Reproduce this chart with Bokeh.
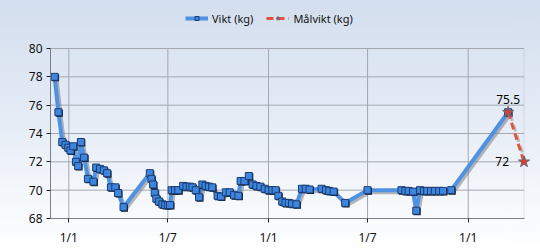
import pandas as pd
from bokeh.plotting import figure
from bokeh.models import (ColumnDataSource, Range1d, FixedTicker, CustomJSTickFormatter,
                          Legend, LegendItem, Dodge, BoxAnnotation)
from bokeh.core.properties import value
from bokeh.embed import file_html
from bokeh.resources import INLINE

# ---- data ----
weight_dates = [
    "2012-12-06", "2012-12-13", "2012-12-20", "2012-12-26", "2012-12-31", "2013-01-04",
    "2013-01-09", "2013-01-14", "2013-01-18", "2013-01-23", "2013-01-29", "2013-02-05",
    "2013-02-15", "2013-02-20", "2013-02-27", "2013-03-06", "2013-03-12", "2013-03-19",
    "2013-03-27", "2013-04-01", "2013-04-11", "2013-05-29", "2013-06-01", "2013-06-04",
    "2013-06-07", "2013-06-10", "2013-06-15", "2013-06-21", "2013-06-26", "2013-07-01",
    "2013-07-05", "2013-07-08", "2013-07-14", "2013-07-20", "2013-07-29", "2013-08-04",
    "2013-08-10", "2013-08-15", "2013-08-21", "2013-08-27", "2013-09-02", "2013-09-08",
    "2013-09-14", "2013-09-20", "2013-09-30", "2013-10-06", "2013-10-15", "2013-10-22",
    "2013-10-30", "2013-11-07", "2013-11-11", "2013-11-18", "2013-11-26", "2013-12-03",
    "2013-12-10", "2013-12-17", "2013-12-25", "2014-01-01", "2014-01-08", "2014-01-14",
    "2014-01-19", "2014-01-26", "2014-02-01", "2014-02-07", "2014-02-13", "2014-02-21",
    "2014-03-03", "2014-03-10", "2014-03-17", "2014-04-08", "2014-04-16", "2014-04-22",
    "2014-04-30", "2014-05-21", "2014-07-01", "2014-09-01", "2014-09-08", "2014-09-14",
    "2014-09-22", "2014-09-28", "2014-10-05", "2014-10-12", "2014-10-18", "2014-10-25",
    "2014-11-01", "2014-11-09", "2014-11-16", "2014-12-01", "2015-03-15",
]
weight_kg = [
    78.0, 75.5, 73.4, 73.2, 73.0, 72.8,
    73.1, 72.0, 71.7, 73.4, 72.3, 70.8,
    70.6, 71.6, 71.5, 71.4, 71.2, 70.2,
    70.2, 69.8, 68.8, 71.2, 70.8, 70.4,
    69.8, 69.4, 69.2, 69.0, 68.95, 68.95,
    68.95, 70.0, 70.0, 70.0, 70.3, 70.25,
    70.25, 70.2, 70.0, 69.5, 70.4, 70.3,
    70.25, 70.2, 69.6, 69.55, 69.85, 69.85,
    69.65, 69.6, 70.65, 70.65, 71.0, 70.4,
    70.3, 70.25, 70.1, 70.0, 70.0, 70.0,
    69.6, 69.2, 69.1, 69.1, 69.05, 69.0,
    70.1, 70.1, 70.05, 70.1, 70.0, 69.95,
    69.9, 69.1, 70.0, 70.0, 69.95, 69.95,
    69.9, 68.55, 70.0, 69.95, 69.95, 69.95,
    69.95, 69.95, 69.95, 70.0, 75.5,
]
target_dates = ["2015-03-15", "2015-04-13"]
target_kg = [75.5, 72.0]
target_labels = ["75.5", "72"]
x_ticks = ["2013-01-01", "2013-07-01", "2014-01-01", "2014-07-01", "2015-01-01"]
y_ticks = [68, 70, 72, 74, 76, 78, 80]
series_names = ["Vikt (kg)", "Målvikt (kg)"]
x_start = "2012-11-28 12:00"

# ---- styles ----
FONT = "Noto Sans"
GRID = "#a4a8b0"
label_x_off = [0, -15]
label_y_off = [-13, 0]
label_align = ["center", "right"]
PX_PER_DAY = 0.5471
PX_PER_KG = 170 / 12.0

w_src = ColumnDataSource(dict(x=pd.to_datetime(weight_dates), y=weight_kg))
t_src = ColumnDataSource(dict(x=pd.to_datetime(target_dates), y=target_kg, lab=target_labels,
                              xo=label_x_off, yo=label_y_off, al=label_align))

x0 = pd.Timestamp(x_start)
x_box_end = pd.Timestamp(target_dates[-1])
x1 = x0 + pd.Timedelta(days=490 / PX_PER_DAY)
y_lo, y_hi = y_ticks[0], y_ticks[-1]
y_top = y_hi + 48 / PX_PER_KG

p = figure(width=540, height=250, x_axis_type="datetime", output_backend="svg",
           toolbar_location=None, x_range=Range1d(x0, x1), y_range=Range1d(y_lo, y_top),
           min_border_left=50, min_border_right=0, min_border_top=0, min_border_bottom=32)

p.styles = {"background": "linear-gradient(to bottom, #d3deee 0%, #e4ebf5 45%, #ffffff 100%)"}
p.border_fill_color = None
p.background_fill_color = None
p.outline_line_color = None
p.grid.visible = False

# plot box + grid lines derived from tick arrays
xt = pd.to_datetime(x_ticks)
p.segment(x0=[x0] * len(y_ticks), y0=y_ticks, x1=[x_box_end] * len(y_ticks), y1=y_ticks,
          line_color=GRID, line_width=1, level="underlay")
p.segment(x0=xt, y0=[y_lo] * len(xt), x1=xt, y1=[y_hi] * len(xt),
          line_color=GRID, line_width=1, level="underlay")
p.add_layout(BoxAnnotation(left=x0, right=x_box_end, bottom=y_lo, top=y_hi,
                           fill_color=None, line_color=GRID, line_width=1, level="underlay"))

# shadows
ms_per_px = 86400000.0 / PX_PER_DAY
sx = Dodge(value=2 * ms_per_px)
sy = Dodge(value=-2 / PX_PER_KG)
p.line(x={"field": "x", "transform": sx}, y={"field": "y", "transform": sy}, source=w_src,
       line_color="#7d7d7d", line_alpha=0.55, line_width=4)
p.line(x={"field": "x", "transform": sx}, y={"field": "y", "transform": sy}, source=t_src,
       line_color="#7d7d7d", line_alpha=0.45, line_width=3, line_dash="7 4")

l1 = p.line("x", "y", source=w_src, line_color="#4f92e3", line_width=4)
p.scatter(x={"field": "x", "transform": Dodge(value=1 * ms_per_px)},
          y={"field": "y", "transform": Dodge(value=-1 / PX_PER_KG)},
          source=w_src, marker="square", size=7, fill_color="#111a2a", line_color=None)
m1 = p.scatter("x", "y", source=w_src, marker="square", size=7, fill_color="#3d86e0",
               line_color="#1c3c70", line_width=1)

l2 = p.line("x", "y", source=t_src, line_color="#e0553c", line_width=3, line_dash="7 4")
m2 = p.scatter("x", "y", source=t_src, marker="star", size=12, fill_color="#d9402a",
               line_color="#6a6a7a", line_width=1)

p.text("x", "y", text="lab", source=t_src, x_offset="xo", y_offset="yo", text_align="al",
       text_baseline="middle", text_font=value(FONT), text_font_size="12px", text_color="#000000")

# axes
for ax in (p.xaxis[0], p.yaxis[0]):
    ax.axis_line_color = "#7a7f88"
    ax.major_tick_line_color = "#222222"
    ax.major_tick_in = 0
    ax.major_tick_out = 4
    ax.minor_tick_line_color = None
    ax.major_label_text_font = FONT
    ax.major_label_text_font_size = "12px"
    ax.major_label_text_color = "#111111"

p.yaxis.ticker = FixedTicker(ticks=y_ticks)
p.yaxis.bounds = (y_lo, y_hi)
p.yaxis.major_label_standoff = 4
p.xaxis.ticker = FixedTicker(ticks=[pd.Timestamp(t).value // 10**6 for t in x_ticks])
p.xaxis.bounds = (x0.value // 10**6, x_box_end.value // 10**6)
p.xaxis.formatter = CustomJSTickFormatter(code="""
    const d = new Date(tick);
    return d.getUTCDate() + "/" + (d.getUTCMonth() + 1);
""")
p.xaxis.major_label_standoff = 6

legend = Legend(items=[LegendItem(label=series_names[0], renderers=[l1, m1]),
                       LegendItem(label=series_names[1], renderers=[l2, m2])],
                orientation="horizontal", location=(135, 192),
                label_text_font=FONT, label_text_font_size="11px", label_text_color="#111111",
                background_fill_alpha=0, border_line_color=None,
                glyph_width=23, glyph_height=10, spacing=13, padding=0, margin=0,
                label_standoff=4, label_height=16)
p.add_layout(legend, "center")

open("out.html", "w").write(file_html(p, INLINE))
